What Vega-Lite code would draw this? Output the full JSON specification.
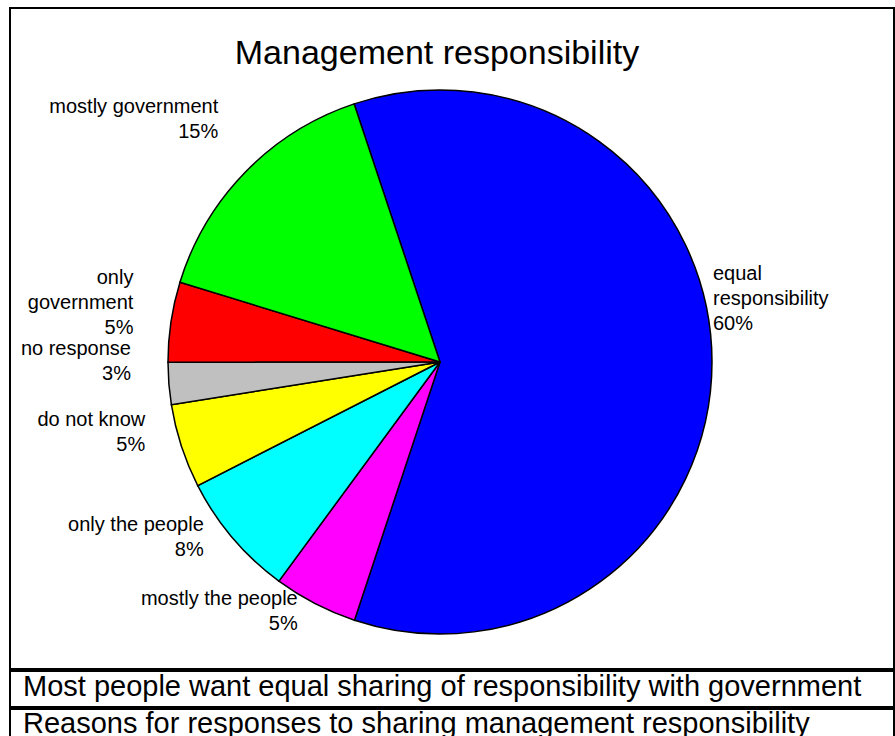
{
  "$schema": "https://vega.github.io/schema/vega-lite/v6.json",
  "padding": {"left": 9, "top": 7, "right": 0, "bottom": 0},
  "background": "white",
  "spacing": 0,
  "config": {
    "view": {"stroke": "black", "strokeWidth": 2},
    "font": "Liberation Sans"
  },
  "vconcat": [
    {
      "width": 884,
      "height": 661,
      "view": {"stroke": "black", "strokeWidth": 2},
      "title": {
        "text": "Management responsibility",
        "fontSize": 34,
        "fontWeight": "normal",
        "font": "Liberation Sans",
        "color": "black",
        "anchor": "middle",
        "frame": "group",
        "baseline": "alphabetic",
        "offset": -90,
        "dx": -15
      },
      "data": {
        "values": [
          {"rank": 1, "response": "equal responsibility", "share": 60.2, "label": "equal\nresponsibility\n60%"},
          {"rank": 2, "response": "mostly the people", "share": 5.0, "label": "mostly the people\n5%"},
          {"rank": 3, "response": "only the people", "share": 7.4, "label": "only the people\n8%"},
          {"rank": 4, "response": "do not know", "share": 5.0, "label": "do not know\n5%"},
          {"rank": 5, "response": "no response", "share": 2.5, "label": "no response\n3%"},
          {"rank": 6, "response": "only government", "share": 4.75, "label": "only\ngovernment\n5%"},
          {"rank": 7, "response": "mostly government", "share": 15.15, "label": "mostly government\n15%"}
        ]
      },
      "encoding": {
        "theta": {"field": "share", "type": "quantitative", "stack": true, "scale": {"range": [-0.3211, 5.9621]}},
        "order": {"field": "rank", "type": "quantitative"}
      },
      "layer": [
        {
          "mark": {"type": "arc", "radius": 272, "stroke": "black", "strokeWidth": 1.5, "xOffset": -12, "yOffset": 23.5},
          "encoding": {
            "color": {
              "field": "response",
              "type": "nominal",
              "scale": {
                "domain": ["equal responsibility", "mostly the people", "only the people", "do not know", "no response", "only government", "mostly government"],
                "range": ["#0000FF", "#FF00FF", "#00FFFF", "#FFFF00", "#C0C0C0", "#FF0000", "#00FF00"]
              },
              "legend": null
            }
          }
        },
        {
          "mark": {
            "type": "text",
            "radius": 310,
            "fontSize": 20,
            "font": "Liberation Sans",
            "color": "black",
            "lineBreak": "\n",
            "lineHeight": 25,
            "baseline": "middle",
            "align": {"expr": "datum.rank == 1 ? 'left' : 'right'"},
            "xOffset": -12,
            "yOffset": 23.5,
            "dy": {"expr": "datum.rank == 1 ? -88 : -38"},
            "dx": {"expr": "datum.rank == 1 ? -37 : 0"}
          },
          "encoding": {
            "text": {"field": "label"}
          }
        }
      ]
    },
    {
      "width": 884,
      "height": 36,
      "view": {"stroke": "black", "strokeWidth": 2},
      "data": {"values": [{"caption": "Most people want equal sharing of responsibility with government"}]},
      "mark": {"type": "text", "fontSize": 29, "font": "Liberation Sans", "color": "black", "align": "left", "x": 0, "dx": 13, "dy": -2},
      "encoding": {"text": {"field": "caption"}}
    },
    {
      "width": 884,
      "height": 29,
      "view": {"stroke": "black", "strokeWidth": 2},
      "data": {"values": [{"caption": "Reasons for responses to sharing management responsibility"}]},
      "mark": {"type": "text", "fontSize": 29, "font": "Liberation Sans", "color": "black", "align": "left", "x": 0, "dx": 13, "dy": 0},
      "encoding": {"text": {"field": "caption"}}
    }
  ]
}
